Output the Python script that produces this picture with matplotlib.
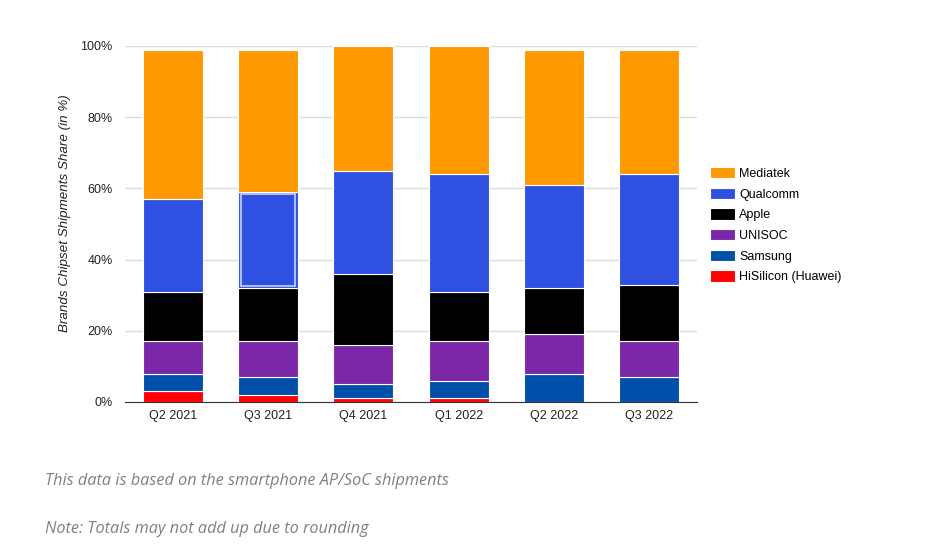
import numpy as np
import matplotlib.pyplot as plt
from matplotlib.patches import Rectangle

quarters = ["Q2 2021", "Q3 2021", "Q4 2021", "Q1 2022", "Q2 2022", "Q3 2022"]
hisilicon = [3, 2, 1, 1, 0, 0]
samsung = [5, 5, 4, 5, 8, 7]
unisoc = [9, 10, 11, 11, 11, 10]
apple = [14, 15, 20, 14, 13, 16]
qualcomm = [26, 27, 29, 33, 29, 31]
mediatek = [42, 40, 35, 36, 38, 35]

series = [
    ("HiSilicon (Huawei)", hisilicon, "#ff0000"),
    ("Samsung", samsung, "#0050aa"),
    ("UNISOC", unisoc, "#7a28a8"),
    ("Apple", apple, "#000000"),
    ("Qualcomm", qualcomm, "#2f51e1"),
    ("Mediatek", mediatek, "#ff9900"),
]

plt.rcParams['font.family'] = ['Liberation Sans', 'DejaVu Sans']

fig = plt.figure(figsize=(9.27, 5.51), dpi=100)
ax = fig.add_axes([125/927, 1-402/551, (697-125)/927, (402-46)/551])

x = np.arange(len(quarters))
bottom = np.zeros(len(quarters))
bars = {}
for name, vals, col in series:
    bars[name] = ax.bar(x, vals, 0.63, bottom=bottom, color=col, edgecolor="white",
                        linewidth=0.8, label=name, zorder=3)
    bottom += np.array(vals)

# hover highlight on Q3 2021 Qualcomm segment
r = bars["Qualcomm"][1]
bx, by = r.get_x(), r.get_y()
ax.add_patch(Rectangle((bx + 0.03, by + 0.7), r.get_width() - 0.06, r.get_height() - 1.4,
                       fill=False, edgecolor="#c8d2f8", linewidth=1.2, zorder=4))

ax.set_xlim(-0.5, 5.5)
ax.set_ylim(0, 100)
ax.set_yticks([0, 20, 40, 60, 80, 100])
ax.set_yticklabels(["0%", "20%", "40%", "60%", "80%", "100%"])
ax.set_xticks(x)
ax.set_xticklabels(quarters)
ax.tick_params(length=0, labelsize=9, colors="#222222", pad=6)
ax.tick_params(axis='y', pad=9)
ax.grid(axis='y', color="#dddddd", linewidth=1, zorder=0)
for s in ["top", "right", "left"]:
    ax.spines[s].set_visible(False)
ax.spines["bottom"].set_color("#333333")
ax.spines["bottom"].set_zorder(5)

ax.set_ylabel("Brands Chipset Shipments Share (in %)", fontsize=9.6, style="italic",
              color="#222222")
ax.yaxis.set_label_coords(-0.095, 0.53)

handles = [bars[n] for n, _, _ in series[::-1]]
labels = [n for n, _, _ in series[::-1]]
ax.legend(handles, labels, loc="upper left", bbox_to_anchor=(699/927, 1-156/551),
          bbox_transform=fig.transFigure, frameon=False, fontsize=9,
          handlelength=2.0, handleheight=1.0, labelspacing=0.62, handletextpad=0.3)

fig.text(45/927, 1-481/551, "This data is based on the smartphone AP/SoC shipments",
         family="Open Sans", style="italic", fontsize=11.7, color="#808080", va="center")
fig.text(45/927, 1-529/551, "Note: Totals may not add up due to rounding",
         family="Open Sans", style="italic", fontsize=11.7, color="#808080", va="center")

fig.savefig("out.png", dpi=100)
